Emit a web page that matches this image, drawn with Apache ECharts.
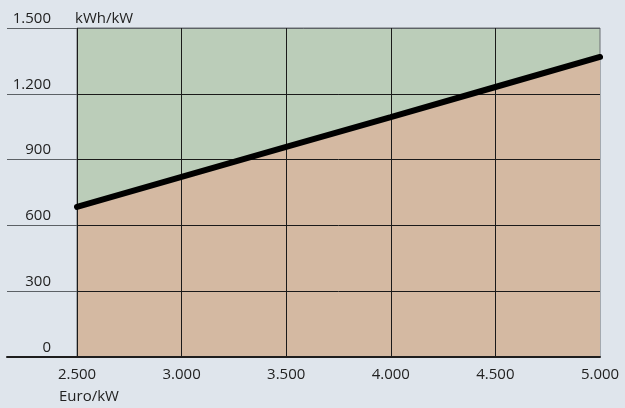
<!DOCTYPE html>
<html>
<head>
<meta charset="utf-8">
<script src="https://cdn.jsdelivr.net/npm/echarts@6/dist/echarts.min.js"></script>
<style>
  html, body { margin: 0; padding: 0; background: #dfe5ec; }
  #main { width: 625px; height: 408px; }
</style>
</head>
<body>
<div id="main"></div>
<script>
// data
var xTicks = [2500, 3000, 3500, 4000, 4500, 5000];
var xLabels = ['2.500', '3.000', '3.500', '4.000', '4.500', '5.000'];
var yTicks = [0, 300, 600, 900, 1200, 1500];
var yLabels = ['0', '300', '600', '900', '1.200', '1.500'];
var yieldValues = [684, 821, 958, 1094, 1231, 1368];

var points = xTicks.map(function (x, i) { return [x, yieldValues[i]]; });

function fmt(list, ticks) {
  return function (v) {
    var i = ticks.indexOf(v);
    return i >= 0 ? list[i] : '';
  };
}

var font = 'Open Sans';
var chart = echarts.init(document.getElementById('main'));
chart.setOption({
  backgroundColor: '#dfe5ec',
  animation: false,
  grid: [
    // wide grid only for the gridlines running under the labels
    { left: 7, right: 25, top: 28, bottom: 51 },
    // plot area
    { left: 77, right: 25, top: 28, bottom: 51, show: true, backgroundColor: '#bbcdb9', borderColor: '#6b6f73', borderWidth: 1 }
  ],
  xAxis: [
    {
      gridIndex: 0, type: 'value', min: 0, max: 1, z: 6,
      axisLine: { show: true, lineStyle: { color: '#1e1e1e', width: 2 } },
      axisTick: { show: false }, axisLabel: { show: false }, splitLine: { show: false }
    },
    {
      gridIndex: 1, type: 'value', min: 2500, max: 5000, interval: 500, z: 3,
      axisLine: { show: false }, axisTick: { show: false },
      axisLabel: { formatter: fmt(xLabels, xTicks), color: '#222', fontFamily: font, fontSize: 15, margin: 10 },
      splitLine: { show: true, showMaxLine: false, lineStyle: { color: '#1a1a1a', width: 1 } }
    }
  ],
  yAxis: [
    {
      gridIndex: 0, type: 'value', min: 0, max: 1500, interval: 300,
      axisLine: { show: false }, axisTick: { show: false }, axisLabel: { show: false },
      splitLine: { show: true, lineStyle: { color: '#5c6166', width: 1 } }
    },
    {
      gridIndex: 1, type: 'value', min: 0, max: 1500, interval: 300, z: 3,
      name: 'kWh/kW', nameLocation: 'end', nameGap: 2,
      nameTextStyle: { align: 'left', verticalAlign: 'bottom', color: '#222', fontFamily: font, fontSize: 15, padding: [0, 0, 0, -2] },
      axisLine: { show: false }, axisTick: { show: false },
      axisLabel: { formatter: fmt(yLabels, yTicks), color: '#222', fontFamily: font, fontSize: 15, margin: 26, verticalAlign: 'bottom', padding: [0, 0, 2, 0] },
      splitLine: { show: true, showMaxLine: false, lineStyle: { color: '#1a1a1a', width: 1 } }
    }
  ],
  graphic: [
    { type: 'text', left: 59, top: 389, style: { text: 'Euro/kW', fill: '#222', font: '15px "Open Sans"' } }
  ],
  series: [
    {
      // area under the line
      type: 'line', xAxisIndex: 1, yAxisIndex: 1, data: points, z: 1,
      symbol: 'none', lineStyle: { width: 0 },
      areaStyle: { color: '#d4b9a2', opacity: 1 }
    },
    {
      type: 'line', xAxisIndex: 1, yAxisIndex: 1, data: points, z: 5,
      symbol: 'none', lineStyle: { color: '#000', width: 6, cap: 'round' }
    }
  ]
});
</script>
</body>
</html>
